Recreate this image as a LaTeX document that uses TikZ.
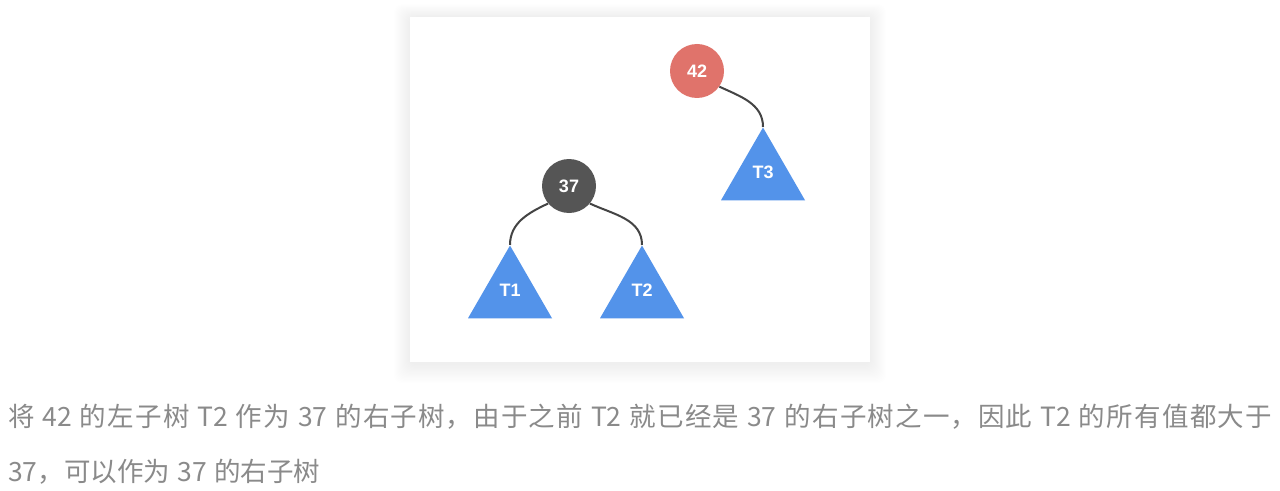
\documentclass[tikz,border=0pt]{standalone}
\usepackage{fontspec}
\setmainfont{Liberation Sans}
\newfontfamily\cjk{Noto Sans CJK SC}
\usetikzlibrary{shapes.geometric}
\definecolor{redkey}{HTML}{E0736B}
\definecolor{graykey}{HTML}{555555}
\definecolor{subblue}{HTML}{5393EA}
\definecolor{edgeink}{HTML}{444444}
\definecolor{notegray}{HTML}{8A8A8A}
\XeTeXlinebreaklocale "zh"
\XeTeXlinebreakskip=0pt plus 2pt

\begin{document}
\begin{tikzpicture}[x=0.75pt,y=0.75pt,
  keynode/.style={circle,minimum size=40.5pt,inner sep=0pt,text=white,font=\bfseries\fontsize{13.5}{13.5}\selectfont},
  subtree/.style={regular polygon,regular polygon sides=3,minimum size=72.75pt,inner sep=0pt,fill=subblue,text=white,
    text height=9.7pt,text depth=5.5pt,font=\bfseries\fontsize{13.5}{13.5}\selectfont},
  link/.style={edgeink,line width=1.5pt}]
\useasboundingbox (0,0) rectangle (1280,490);
\fill[white] (0,0) rectangle (1280,490);
\foreach \s in {1,...,16}
  \fill[black,opacity=0.004,rounded corners=6pt] (410-\s,126-1.2*\s) rectangle (870+\s,473+0.8*\s);
\fill[white] (410,128) rectangle (870,473);
\node[keynode,fill=redkey] (n42) at (697,419) {42};
\node[keynode,fill=graykey] (n37) at (569,304) {37};
\node[subtree] (t1) at (510,196) {T1};
\node[subtree] (t2) at (642,196) {T2};
\node[subtree] (t3) at (763,314) {T3};
\draw[link] (n42.-35) to[out=-25,in=90] (t3.corner 1);
\draw[link] (n37.-140) to[out=-155,in=90] (t1.corner 1);
\draw[link] (n37.-40) to[out=-25,in=90] (t2.corner 1);
\node[anchor=north west,inner sep=0pt,text width=948pt,align=justify,text=notegray,font=\cjk\fontsize{19.875}{41.25}\selectfont] (note) at (8,86)
  {\spaceskip=0.28em plus 0.5pt\relax
   将 42 的左子树 T2 作为 37 的右子树，由于之前 T2 就已经是 37 的右子树之一，因此 T2 的所有值都大于\linebreak
   37，可以作为 37 的右子树};
\end{tikzpicture}
\end{document}
